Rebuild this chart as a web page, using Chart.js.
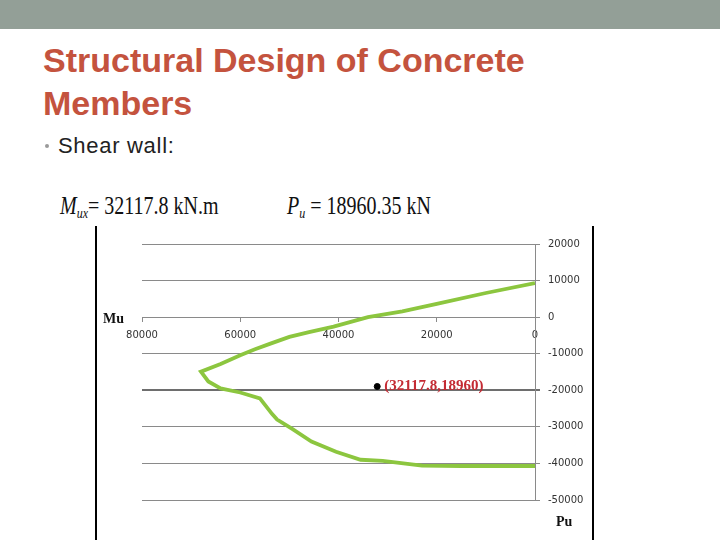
<!DOCTYPE html>
<html>
<head>
<meta charset="utf-8">
<script src="https://cdn.jsdelivr.net/npm/chart.js@4.4.1/dist/chart.umd.min.js"></script>
<style>
  html, body { margin: 0; padding: 0; background: #fff; }
  body { width: 720px; height: 540px; position: relative; overflow: hidden; }
  .band { position: absolute; left: 0; top: 0; width: 720px; height: 29px; background: #939f97; }
  .title { position: absolute; left: 43px; top: 39px; font: bold 34px "Liberation Sans", Arial, sans-serif; line-height: 43px; color: #c4533e; }
  .bullet { position: absolute; left: 45px; top: 144px; width: 4px; height: 4px; border-radius: 50%; background: #9a9a9a; }
  .sub { position: absolute; left: 58px; top: 135px; font: 22px "Liberation Sans", Arial, sans-serif; line-height: 1; letter-spacing: 0.7px; color: #222; }
  .formula { position: absolute; top: 193px; font: 25px "Liberation Serif", "Times New Roman", serif; line-height: 1; color: #111; transform: scaleX(0.8); transform-origin: left top; white-space: nowrap; }
  .formula i sub { font-size: 15px; vertical-align: -4px; line-height: 0; }
  .axlab { position: absolute; font: bold 14px "Liberation Serif", "Times New Roman", serif; line-height: 1; color: #111; }
  .vline { position: absolute; top: 226px; width: 1.5px; height: 314px; background: #000; }
  #wrap { position: absolute; left: 96px; top: 226px; width: 495px; height: 314px; }
</style>
</head>
<body>
<div class="band"></div>
<div class="title">Structural Design of Concrete<br>Members</div>
<div class="bullet"></div>
<div class="sub">Shear wall:</div>
<div class="formula" style="left:60px"><i>M<sub>ux</sub></i>= 32117.8 kN.m</div>
<div class="formula" style="left:287px"><i>P<sub>u</sub></i> = 18960.35 kN</div>
<div class="vline" style="left:95px"></div>
<div class="vline" style="left:592px"></div>
<div id="wrap"><canvas id="chart" width="495" height="314"></canvas></div>
<div class="axlab" style="left:103px; top:312px">Mu</div>
<div class="axlab" style="left:556px; top:515px">Pu</div>
<script>
// interaction curve (Mu, Pu)
const curveMu = [0, 10000, 20000, 27000, 34000, 41000, 46000, 50000, 54000, 57000, 60000, 64000, 68000,
                 66500, 64000, 60000, 56000, 53500, 52500, 49500, 45500, 40500, 35500, 31000, 23000, 15000, 0];
const curvePu = [9300, 6600, 3600, 1600, 0, -2600, -4100, -5400, -7300, -8800, -10400, -12800, -14900,
                 -17600, -19500, -20600, -22200, -26500, -28000, -30500, -34000, -36800, -39000, -39300, -40600, -40700, -40700];

// design point
const pointMu = [32117.8];
const pointPu = [-18960];
const pointLabel = "(32117.8,18960)";

const xTicks = [80000, 60000, 40000, 20000, 0];
const yTicks = [20000, 10000, 0, -10000, -20000, -30000, -40000, -50000];

const curve = curveMu.map((m, i) => ({ x: m, y: curvePu[i] }));
const point = pointMu.map((m, i) => ({ x: m, y: pointPu[i] }));

// red text next to the design point
const pointText = {
    id: "pointText",
    afterDatasetsDraw(chart) {
        const el = chart.getDatasetMeta(1).data[0];
        if (!el) return;
        const ctx = chart.ctx;
        ctx.save();
        ctx.font = 'bold 15px "Liberation Serif", "Times New Roman", serif';
        ctx.fillStyle = "#c42b33";
        ctx.textBaseline = "alphabetic";
        ctx.fillText(pointLabel, el.x + 7, el.y + 4);
        ctx.restore();
    }
};

const tickFont = { family: '"DejaVu Sans", Verdana, sans-serif', size: 10 };

new Chart(document.getElementById("chart"), {
    type: "scatter",
    data: {
        datasets: [{
            data: curve,
            showLine: true,
            borderColor: "#8cc63f",
            borderWidth: 3.8,
            pointRadius: 0,
            tension: 0
        }, {
            data: point,
            showLine: false,
            pointRadius: 3,
            backgroundColor: "#000",
            borderColor: "#000"
        }]
    },
    options: {
        responsive: false,
        animation: false,
        layout: { padding: { left: 46, top: 18, bottom: 40, right: 0 } },
        plugins: { legend: { display: false }, tooltip: { enabled: false } },
        scales: {
            x: {
                type: "linear",
                position: { y: 0 },
                reverse: true,
                min: 0,
                max: 80000,
                afterBuildTicks: (s) => { s.ticks = xTicks.map(v => ({ value: v })); },
                ticks: { font: tickFont, color: "#333", padding: 8, maxRotation: 0, callback: (v) => String(v) },
                grid: { drawOnChartArea: false, drawTicks: true, tickLength: 4, color: "#8a8a8a" },
                border: { color: "#8a8a8a" }
            },
            y: {
                type: "linear",
                position: "right",
                min: -50000,
                max: 20000,
                afterBuildTicks: (s) => { s.ticks = yTicks.map(v => ({ value: v })); },
                afterFit: (s) => { s.width = 56; },
                ticks: { font: tickFont, color: "#333", padding: 8, callback: (v) => String(v) },
                grid: {
                    tickLength: 5,
                    color: (c) => c.tick && c.tick.value === -20000 ? "#6e6e6e" : "#8a8a8a",
                    lineWidth: (c) => c.tick && c.tick.value === -20000 ? 2 : 1
                },
                border: { color: "#8a8a8a" }
            }
        }
    },
    plugins: [pointText]
});
</script>
</body>
</html>
